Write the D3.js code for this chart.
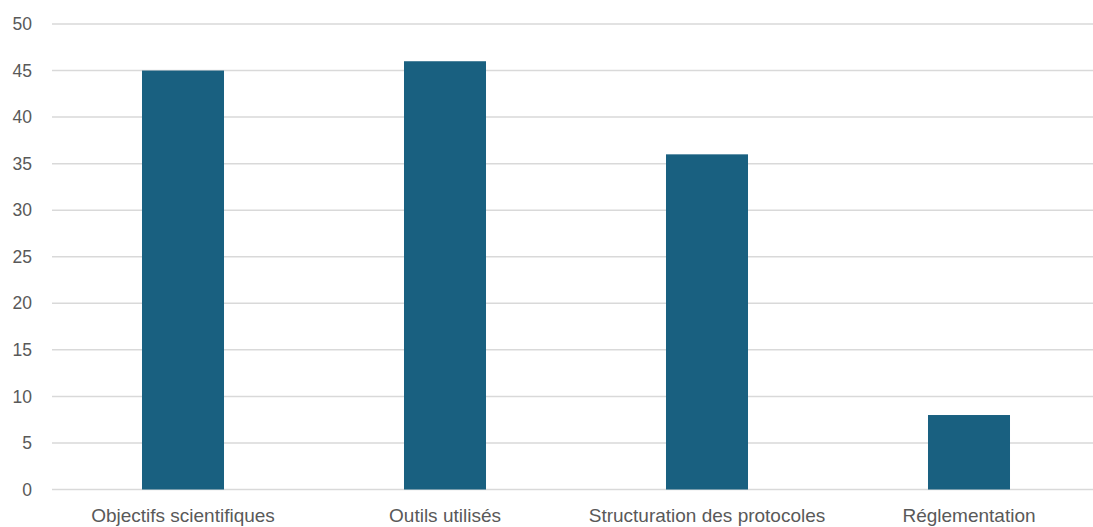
<!DOCTYPE html>
<html>
<head>
<meta charset="utf-8">
<script src="https://cdn.jsdelivr.net/npm/d3@7"></script>
<style>
  html, body { margin: 0; padding: 0; background: #fff; }
  svg { display: block; }
  text { font-family: "Liberation Sans", Arial, sans-serif; fill: #595959; }
</style>
</head>
<body>
<svg id="chart" width="1093" height="527"></svg>
<script>
// Number of responses per theme
const categories = ["Objectifs scientifiques", "Outils utilisés", "Structuration des protocoles", "Réglementation"];
const values = [45, 46, 36, 8];
const yTicks = [0, 5, 10, 15, 20, 25, 30, 35, 40, 45, 50];

const svg = d3.select("#chart");
const plot = { left: 52, right: 1100, top: 24, bottom: 489.5 };

const x = d3.scaleBand()
  .domain(categories)
  .range([plot.left, plot.right])
  .paddingInner(0.687)
  .paddingOuter(0.3435);

const y = d3.scaleLinear()
  .domain([0, 50])
  .range([plot.bottom, plot.top]);

// Horizontal gridlines
svg.append("g")
  .selectAll("line")
  .data(yTicks)
  .join("line")
  .attr("x1", plot.left)
  .attr("x2", plot.right)
  .attr("y1", d => y(d))
  .attr("y2", d => y(d))
  .attr("stroke", "#d9d9d9")
  .attr("stroke-width", 1.5);

// Y axis labels
const yAxis = d3.axisLeft(y).tickValues(yTicks).tickSize(0).tickPadding(0);
svg.append("g")
  .attr("transform", "translate(32,0)")
  .call(yAxis)
  .call(g => g.select(".domain").remove())
  .call(g => g.selectAll("text")
    .attr("font-size", 17.5)
    .attr("fill", "#595959")
    .attr("font-family", "Liberation Sans, Arial, sans-serif"));

// Bars
svg.append("g")
  .selectAll("rect")
  .data(categories)
  .join("rect")
  .attr("x", d => x(d))
  .attr("width", x.bandwidth())
  .attr("y", (d, i) => y(values[i]))
  .attr("height", (d, i) => y(0) - y(values[i]))
  .attr("fill", "#196080");

// X axis labels
const xAxis = d3.axisBottom(x).tickSize(0).tickPadding(0);
svg.append("g")
  .attr("transform", "translate(0,508)")
  .call(xAxis)
  .call(g => g.select(".domain").remove())
  .call(g => g.selectAll("text")
    .attr("font-size", 19)
    .attr("fill", "#595959")
    .attr("font-family", "Liberation Sans, Arial, sans-serif"));
</script>
</body>
</html>
